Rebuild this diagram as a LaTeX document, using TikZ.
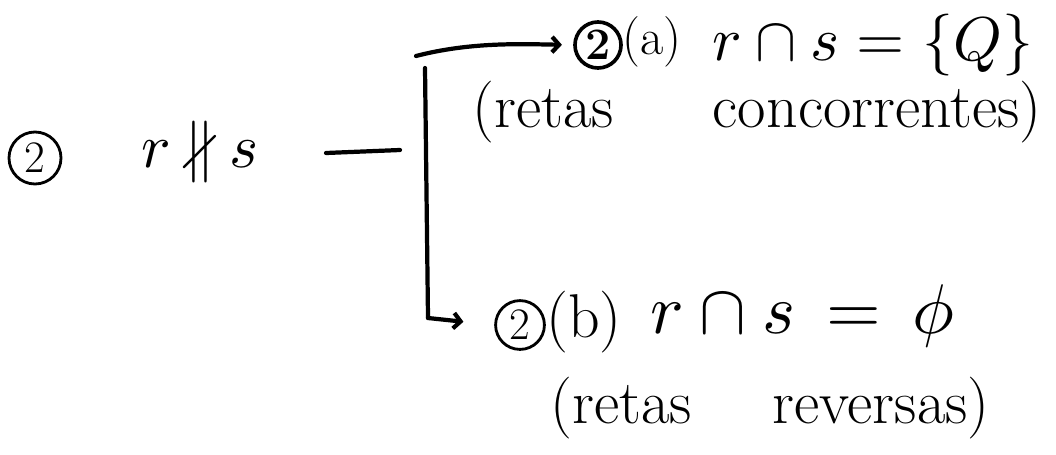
\documentclass[tikz,border=0pt]{standalone}
\usepackage{graphicx}
\usepackage{amssymb}
\usetikzlibrary{arrows.meta}
\newcommand{\hugemath}[2][4.4]{\scalebox{#1}{\fontsize{10}{12}\selectfont$#2$}}
\begin{document}
\begin{tikzpicture}[x=0.025cm,y=-0.025cm,
  txt/.style={font=\fontsize{44}{50}\selectfont, inner sep=0pt},
  circ/.style={draw, circle, line width=2pt, inner sep=0pt, font=\fontsize{32}{38}\selectfont},
  conn/.style={line width=3pt, line cap=round},
  arr/.style={conn, -{Straight Barb[length=5pt,width=11pt]}}]
\useasboundingbox (0,0) rectangle (1056,454);
% left
\node[circ, minimum size=1.3cm] (c0) at (35,158) {2};
\node[txt] (rs) at (200,152) {\hugemath{r \mathbin{\nparallel} s}};
\coordinate (h0) at (326,153);
\coordinate (h1) at (400,150);
\draw[conn] (h0) -- (h1);
% bracket
\coordinate (vtop) at (425,68);
\coordinate (vbot) at (428,318);
\draw[conn] (vtop) -- (vbot);
% top branch
\coordinate (t0) at (416,56);
\node[circ, minimum size=1.15cm, line width=2.6pt, font=\fontsize{32}{38}\selectfont\bfseries] (ca) at (598,45) {2};
\node[txt, anchor=west, font=\fontsize{36}{42}\selectfont] (a) at (622,42) {(a)};
\node[txt, anchor=west] (ma) at (712,45) {\hugemath{r\cap s=\{Q\}}};
\node[txt] (conc) at (757,112) {(retas\hspace{1.6em}concorrentes)};
\draw[arr, shorten >=8] (t0) .. controls (470,42) and (520,44) .. (ca.west);
% bottom branch
\node[circ, minimum size=1.22cm] (cb) at (520,325) {2};
\node[txt, anchor=west] (b) at (546,322) {(b)};
\node[txt, anchor=west] (mb) at (650,316) {\hugemath[5]{r\cap s\,=\,\phi}};
\node[txt] (rev) at (770,408) {(retas\hspace{1.3em}reversas)};
\draw[arr, shorten >=22] (vbot) -- (cb.west);
\end{tikzpicture}
\end{document}
